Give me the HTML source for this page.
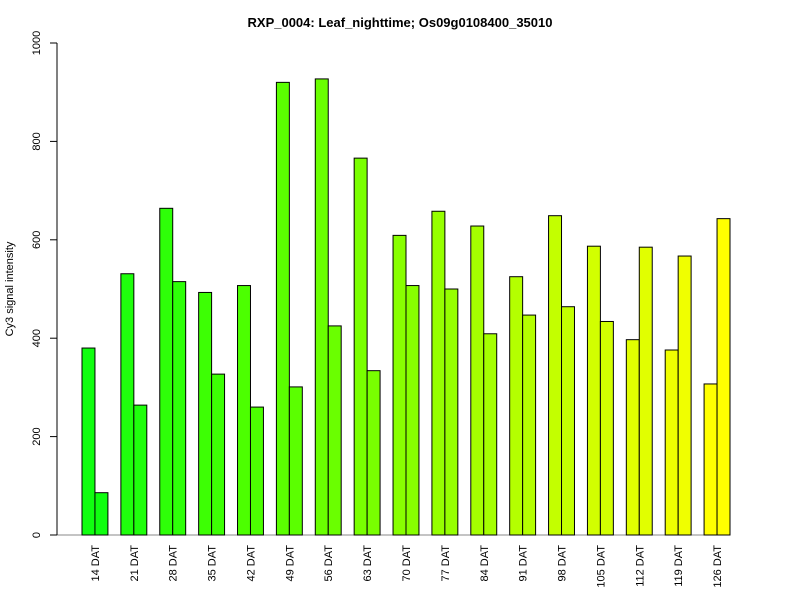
<!DOCTYPE html>
<html><head><meta charset="utf-8"><style>body{margin:0;background:#fff}svg{display:block;font-family:"Liberation Sans",sans-serif}</style></head>
<body>
<svg id="chart" width="800" height="600" xmlns="http://www.w3.org/2000/svg">
<rect width="800" height="600" fill="#fff"/>
<text x="400" y="27" text-anchor="middle" font-size="13" font-weight="bold">RXP_0004: Leaf_nighttime; Os09g0108400_35010</text>
<text transform="translate(13,289) rotate(-90)" text-anchor="middle" font-size="11">Cy3 signal intensity</text>
<g id="marks"></g>
</svg>
<script>
const categories=["14 DAT","21 DAT","28 DAT","35 DAT","42 DAT","49 DAT","56 DAT","63 DAT","70 DAT","77 DAT","84 DAT","91 DAT","98 DAT","105 DAT","112 DAT","119 DAT","126 DAT"];
const series1=[380,531,664,493,507,920,927,766,609,658,628,525,649,587,397,376,307];
const series2=[86,264,515,327,260,301,425,334,507,500,409,447,464,434,585,567,643];
const yTicks=[0,200,400,600,800,1000];
const NS="http://www.w3.org/2000/svg";
const g=document.getElementById("marks");
const y=v=>535-v*0.492;
const u=12.96, x0=82;
const bx=(i,j)=>x0+(i*3+j)*u;
function el(t,a){const e=document.createElementNS(NS,t);for(const k in a)e.setAttribute(k,a[k]);g.appendChild(e);return e;}
const base=el("line",{x1:50,x2:730,y1:535,y2:535,stroke:"#888"});


const ax=el("line",{x1:57,x2:57,y1:y(0),y2:y(1000),stroke:"#000"});


yTicks.forEach(t=>{
 const l=el("line",{x1:50,x2:57,y1:y(t),y2:y(t),stroke:"#000"});
 
 
 const tx=el("text",{transform:`translate(40,${y(t)}) rotate(-90)`,"text-anchor":"middle","font-size":"11"});
 tx.textContent=t;
 
 
});
const n=categories.length;
categories.forEach((c,i)=>{
 const r=Math.round(16+i*(239/(n-1)));
 const col=`rgb(${r},255,${Math.max(0,16-i*4)})`;
 [series1[i],series2[i]].forEach((v,j)=>{
  const b=el("rect",{x:bx(i,j),y:y(v),width:u,height:y(0)-y(v),fill:col,stroke:"#000","stroke-width":1});
  
  
 });
 const cx=bx(i,1);
 const tx=el("text",{transform:`translate(${cx+4},545) rotate(-90)`,"text-anchor":"end","font-size":"11"});
 tx.textContent=c;
 
 
});
</script>
</body></html>
